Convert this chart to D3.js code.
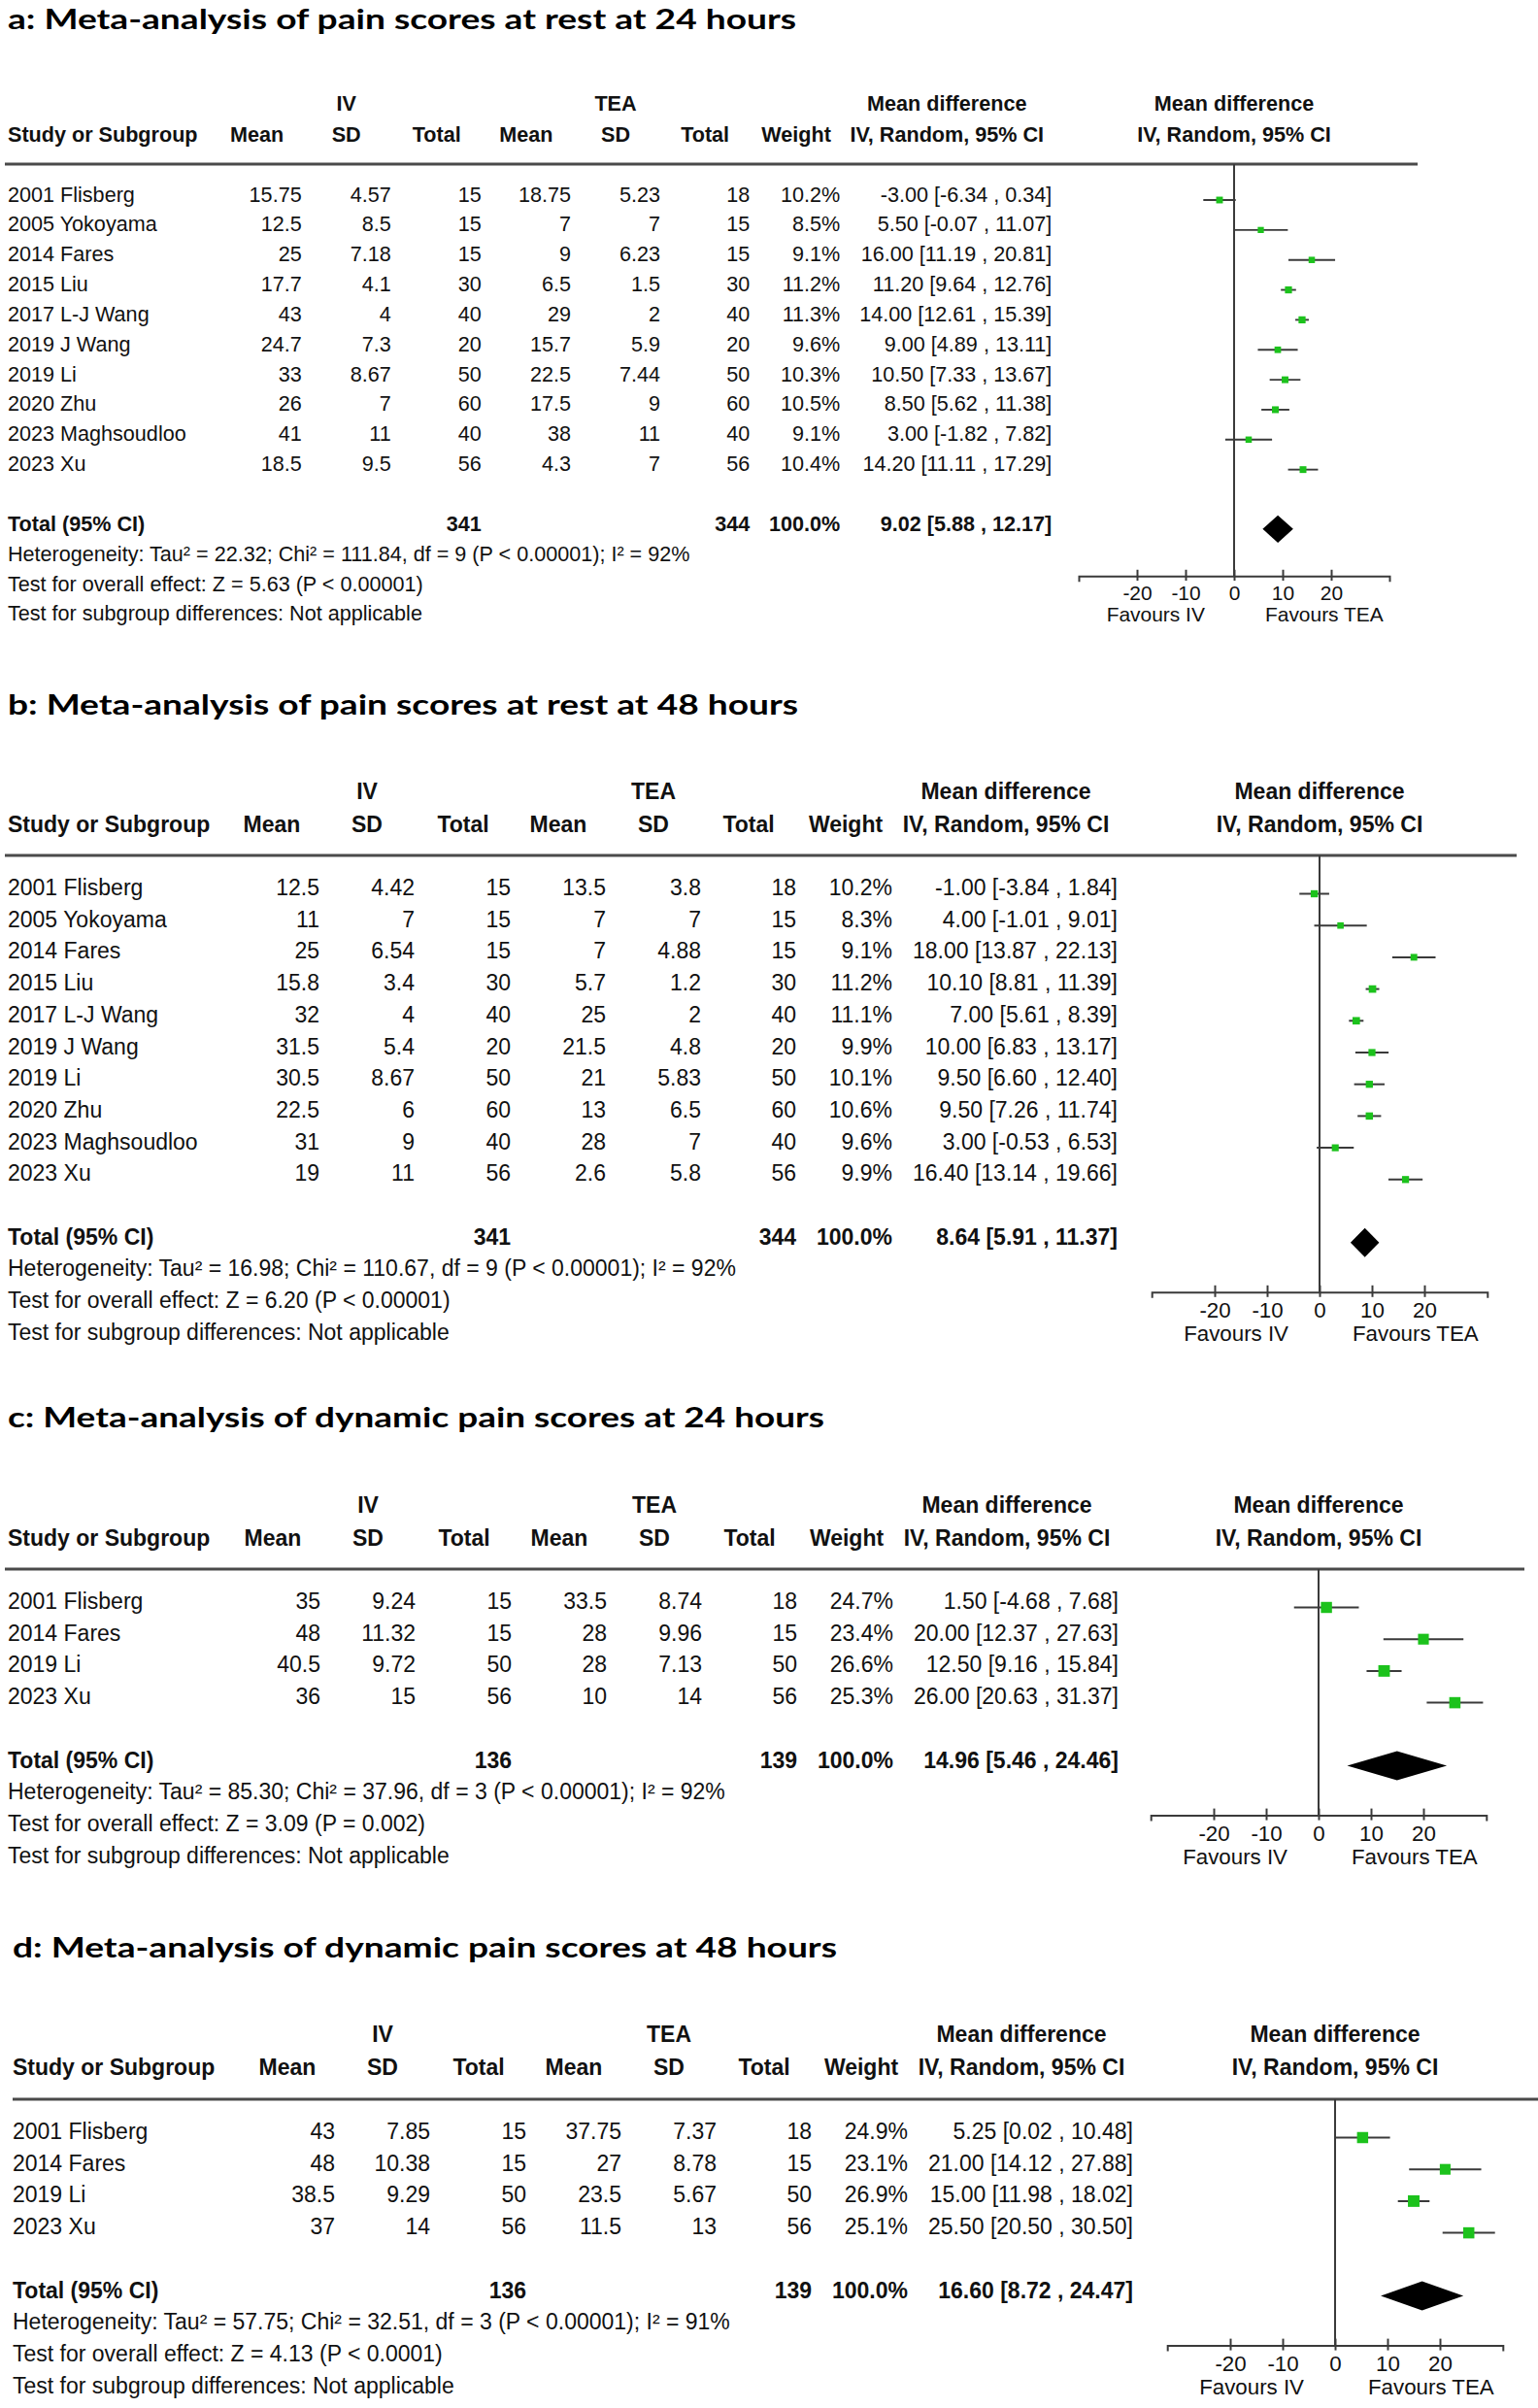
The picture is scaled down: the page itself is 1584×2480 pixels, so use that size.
<!DOCTYPE html>
<html><head><meta charset="utf-8">
<script src="https://cdn.jsdelivr.net/npm/d3@7"></script>
<style>body{margin:0;background:#fff}</style>
</head><body>
<svg id="chart" width="1584" height="2480"></svg>
<script>
// ---------------- DATA ----------------
const studiesAB = ["2001 Flisberg","2005 Yokoyama","2014 Fares","2015 Liu","2017 L-J Wang","2019 J Wang","2019 Li","2020 Zhu","2023 Maghsoudloo","2023 Xu"];
const studiesCD = ["2001 Flisberg","2014 Fares","2019 Li","2023 Xu"];

// a: pain at rest 24 h
const aIvMean  = [15.75,12.5,25,17.7,43,24.7,33,26,41,18.5];
const aIvSD    = [4.57,8.5,7.18,4.1,4,7.3,8.67,7,11,9.5];
const aIvN     = [15,15,15,30,40,20,50,60,40,56];
const aTeaMean = [18.75,7,9,6.5,29,15.7,22.5,17.5,38,4.3];
const aTeaSD   = [5.23,7,6.23,1.5,2,5.9,7.44,9,11,7];
const aTeaN    = [18,15,15,30,40,20,50,60,40,56];
const aWeight  = [10.2,8.5,9.1,11.2,11.3,9.6,10.3,10.5,9.1,10.4];
const aMD      = [-3.00,5.50,16.00,11.20,14.00,9.00,10.50,8.50,3.00,14.20];
const aLo      = [-6.34,-0.07,11.19,9.64,12.61,4.89,7.33,5.62,-1.82,11.11];
const aHi      = [0.34,11.07,20.81,12.76,15.39,13.11,13.67,11.38,7.82,17.29];
const aTotal   = {ivN:341, teaN:344, md:9.02, lo:5.88, hi:12.17};
const aStats   = ["Heterogeneity: Tau² = 22.32; Chi² = 111.84, df = 9 (P < 0.00001); I² = 92%",
                  "Test for overall effect: Z = 5.63 (P < 0.00001)",
                  "Test for subgroup differences: Not applicable"];

// b: pain at rest 48 h
const bIvMean  = [12.5,11,25,15.8,32,31.5,30.5,22.5,31,19];
const bIvSD    = [4.42,7,6.54,3.4,4,5.4,8.67,6,9,11];
const bIvN     = [15,15,15,30,40,20,50,60,40,56];
const bTeaMean = [13.5,7,7,5.7,25,21.5,21,13,28,2.6];
const bTeaSD   = [3.8,7,4.88,1.2,2,4.8,5.83,6.5,7,5.8];
const bTeaN    = [18,15,15,30,40,20,50,60,40,56];
const bWeight  = [10.2,8.3,9.1,11.2,11.1,9.9,10.1,10.6,9.6,9.9];
const bMD      = [-1.00,4.00,18.00,10.10,7.00,10.00,9.50,9.50,3.00,16.40];
const bLo      = [-3.84,-1.01,13.87,8.81,5.61,6.83,6.60,7.26,-0.53,13.14];
const bHi      = [1.84,9.01,22.13,11.39,8.39,13.17,12.40,11.74,6.53,19.66];
const bTotal   = {ivN:341, teaN:344, md:8.64, lo:5.91, hi:11.37};
const bStats   = ["Heterogeneity: Tau² = 16.98; Chi² = 110.67, df = 9 (P < 0.00001); I² = 92%",
                  "Test for overall effect: Z = 6.20 (P < 0.00001)",
                  "Test for subgroup differences: Not applicable"];

// c: dynamic pain 24 h
const cIvMean  = [35,48,40.5,36];
const cIvSD    = [9.24,11.32,9.72,15];
const cIvN     = [15,15,50,56];
const cTeaMean = [33.5,28,28,10];
const cTeaSD   = [8.74,9.96,7.13,14];
const cTeaN    = [18,15,50,56];
const cWeight  = [24.7,23.4,26.6,25.3];
const cMD      = [1.50,20.00,12.50,26.00];
const cLo      = [-4.68,12.37,9.16,20.63];
const cHi      = [7.68,27.63,15.84,31.37];
const cTotal   = {ivN:136, teaN:139, md:14.96, lo:5.46, hi:24.46};
const cStats   = ["Heterogeneity: Tau² = 85.30; Chi² = 37.96, df = 3 (P < 0.00001); I² = 92%",
                  "Test for overall effect: Z = 3.09 (P = 0.002)",
                  "Test for subgroup differences: Not applicable"];

// d: dynamic pain 48 h
const dIvMean  = [43,48,38.5,37];
const dIvSD    = [7.85,10.38,9.29,14];
const dIvN     = [15,15,50,56];
const dTeaMean = [37.75,27,23.5,11.5];
const dTeaSD   = [7.37,8.78,5.67,13];
const dTeaN    = [18,15,50,56];
const dWeight  = [24.9,23.1,26.9,25.1];
const dMD      = [5.25,21.00,15.00,25.50];
const dLo      = [0.02,14.12,11.98,20.50];
const dHi      = [10.48,27.88,18.02,30.50];
const dTotal   = {ivN:136, teaN:139, md:16.60, lo:8.72, hi:24.47};
const dStats   = ["Heterogeneity: Tau² = 57.75; Chi² = 32.51, df = 3 (P < 0.00001); I² = 91%",
                  "Test for overall effect: Z = 4.13 (P < 0.0001)",
                  "Test for subgroup differences: Not applicable"];

const titles = ["a: Meta-analysis of pain scores at rest at 24 hours",
                "b: Meta-analysis of pain scores at rest at 48 hours",
                "c: Meta-analysis of dynamic pain scores at 24 hours",
                "d: Meta-analysis of dynamic pain scores at 48 hours"];
const colHeaders = ["Mean","SD","Total","Mean","SD","Total","Weight"];
const tickValues = [-20,-10,0,10,20];
const axisDomain = [-32,32];

// ---------------- LAYOUT ----------------
function colsFrom(base, k, off){ const o={}; for(const key in base){ o[key]=base[key]*k+off; } return o; }
const baseCols = {mean:329, sd:427, total:526, mean2:624, sd2:722, total2:820, weight:919, ci:1151};

const panels = [
 {title:titles[0], studies:studiesAB, ivMean:aIvMean, ivSD:aIvSD, ivN:aIvN, teaMean:aTeaMean, teaSD:aTeaSD, teaN:aTeaN,
  weight:aWeight, md:aMD, lo:aLo, hi:aHi, total:aTotal, stats:aStats,
  L:{s:0.94, fs:21.6, titleX:8, titleY:30, titleW:812, gY:114, hY:146, lineY:169, lineX:[5,1460], row0:207.5, dy:30.85,
     studyX:8, cols:colsFrom(baseCols,0.94,1.4), zero:1271, ppu:5.0}},
 {title:titles[1], studies:studiesAB, ivMean:bIvMean, ivSD:bIvSD, ivN:bIvN, teaMean:bTeaMean, teaSD:bTeaSD, teaN:bTeaN,
  weight:bWeight, md:bMD, lo:bLo, hi:bHi, total:bTotal, stats:bStats,
  L:{s:1, fs:23, titleX:8, titleY:736, titleW:814, gY:823, hY:857, lineY:881, lineX:[5,1562], row0:922, dy:32.7,
     studyX:8, cols:colsFrom(baseCols,1,0), zero:1359, ppu:5.4}},
 {title:titles[2], studies:studiesCD, ivMean:cIvMean, ivSD:cIvSD, ivN:cIvN, teaMean:cTeaMean, teaSD:cTeaSD, teaN:cTeaN,
  weight:cWeight, md:cMD, lo:cLo, hi:cHi, total:cTotal, stats:cStats,
  L:{s:1, fs:23, titleX:8, titleY:1470, titleW:841, gY:1558, hY:1592, lineY:1616, lineX:[5,1570], row0:1657, dy:32.7,
     studyX:8, cols:colsFrom(baseCols,1,1), zero:1358, ppu:5.4}},
 {title:titles[3], studies:studiesCD, ivMean:dIvMean, ivSD:dIvSD, ivN:dIvN, teaMean:dTeaMean, teaSD:dTeaSD, teaN:dTeaN,
  weight:dWeight, md:dMD, lo:dLo, hi:dHi, total:dTotal, stats:dStats,
  L:{s:1, fs:23, titleX:13, titleY:2016, titleW:849, gY:2103, hY:2137, lineY:2162, lineX:[13,1584], row0:2203, dy:32.7,
     studyX:13, cols:colsFrom(baseCols,1,16), zero:1375, ppu:5.4}}
];

const BODY = "'Liberation Sans', Arial, Helvetica, sans-serif";
const TITLE = "Lato, 'Open Sans', sans-serif";
const INK = "#111";
const LINE = "#3a3a3a";
const GREEN = "#1cc21c";

const svg = d3.select("#chart");
svg.append("rect").attr("width",1584).attr("height",2480).attr("fill","#fff");

const fmtCI = (m,l,h) => `${m.toFixed(2)} [${l.toFixed(2)} , ${h.toFixed(2)}]`;

panels.forEach(p => {
  const L = p.L, s = L.s, c = L.cols;
  const g = svg.append("g");
  const hOff = 49*s, ciOff = 115*s, wOff = 48*s;
  const txt = (x,y,str,anchor,bold,size) => g.append("text")
      .attr("x",x).attr("y",y).attr("text-anchor",anchor||"start")
      .attr("font-family",BODY).attr("font-size",size||L.fs)
      .attr("font-weight",bold?"bold":"normal").attr("fill",INK).text(str);

  // title
  g.append("text").attr("x",L.titleX).attr("y",L.titleY)
   .attr("font-family",TITLE).attr("font-weight","bold").attr("font-size",29)
   .attr("textLength",L.titleW).attr("lengthAdjust","spacingAndGlyphs")
   .attr("fill","#000").text(p.title);

  // group headers
  txt(c.sd - hOff, L.gY, "IV", "middle", true);
  txt(c.sd2 - hOff, L.gY, "TEA", "middle", true);
  txt(c.ci - ciOff, L.gY, "Mean difference", "middle", true);
  txt(L.zero, L.gY, "Mean difference", "middle", true);

  // column headers
  txt(L.studyX, L.hY, "Study or Subgroup", "start", true);
  const colKeys = ["mean","sd","total","mean2","sd2","total2"];
  colKeys.forEach((k,i) => txt(c[k]-hOff, L.hY, colHeaders[i], "middle", true));
  txt(c.weight - wOff, L.hY, colHeaders[6], "middle", true);
  txt(c.ci - ciOff, L.hY, "IV, Random, 95% CI", "middle", true);
  txt(L.zero, L.hY, "IV, Random, 95% CI", "middle", true);

  // header rule
  g.append("line").attr("x1",L.lineX[0]).attr("x2",L.lineX[1])
   .attr("y1",L.lineY).attr("y2",L.lineY).attr("stroke","#4a4a4a").attr("stroke-width",3);

  const n = p.studies.length;
  const rowY = d3.scaleLinear().domain([0,1]).range([L.row0, L.row0+L.dy]);

  // study rows
  p.studies.forEach((st,i) => {
    const y = rowY(i);
    txt(L.studyX, y, st);
    txt(c.mean, y, String(p.ivMean[i]), "end");
    txt(c.sd, y, String(p.ivSD[i]), "end");
    txt(c.total, y, String(p.ivN[i]), "end");
    txt(c.mean2, y, String(p.teaMean[i]), "end");
    txt(c.sd2, y, String(p.teaSD[i]), "end");
    txt(c.total2, y, String(p.teaN[i]), "end");
    txt(c.weight, y, p.weight[i].toFixed(1)+"%", "end");
    txt(c.ci, y, fmtCI(p.md[i],p.lo[i],p.hi[i]), "end");
  });

  // total row
  const ty = rowY(n+1);
  txt(L.studyX, ty, "Total (95% CI)", "start", true);
  txt(c.total, ty, String(p.total.ivN), "end", true);
  txt(c.total2, ty, String(p.total.teaN), "end", true);
  txt(c.weight, ty, "100.0%", "end", true);
  txt(c.ci, ty, fmtCI(p.total.md,p.total.lo,p.total.hi), "end", true);

  // stats lines
  p.stats.forEach((st,k) => txt(L.studyX, rowY(n+2+k), st));

  // forest plot
  const x = d3.scaleLinear().domain(axisDomain)
              .range([L.zero + axisDomain[0]*L.ppu, L.zero + axisDomain[1]*L.ppu]);
  const axisY = rowY(n+4) - 49*s;

  // zero line
  g.append("line").attr("x1",x(0)).attr("x2",x(0)).attr("y1",L.lineY).attr("y2",axisY)
   .attr("stroke",LINE).attr("stroke-width",2);

  // CI whiskers and squares
  const markY = i => rowY(i) - 1.5;
  g.selectAll(".ci").data(d3.range(n)).join("line")
   .attr("x1",i=>x(p.lo[i])).attr("x2",i=>x(p.hi[i]))
   .attr("y1",markY).attr("y2",markY)
   .attr("stroke",LINE).attr("stroke-width",2*s);
  const sz = i => 2.3*Math.sqrt(p.weight[i])*s;
  g.selectAll(".sq").data(d3.range(n)).join("rect")
   .attr("x",i=>x(p.md[i])-sz(i)/2).attr("y",i=>markY(i)-sz(i)/2)
   .attr("width",sz).attr("height",sz).attr("fill",GREEN);

  // diamond
  const dy0 = ty - 2, dh = 30*s/2;
  const dpts = [[x(p.total.lo),dy0],[x(p.total.md),dy0-dh],[x(p.total.hi),dy0],[x(p.total.md),dy0+dh]];
  g.append("path").attr("d", d3.line()(dpts)+"Z").attr("fill","#000");

  // axis
  const ax = g.append("g").attr("transform",`translate(0,${axisY})`)
    .call(d3.axisBottom(x).tickValues(tickValues).tickSizeOuter(0).tickSize(6).tickFormat(d => String(d)));
  ax.select(".domain").attr("stroke",LINE).attr("stroke-width",2);
  ax.selectAll(".tick line").attr("stroke",LINE).attr("stroke-width",2).attr("y1",-7*s).attr("y2",5*s);
  ax.selectAll(".tick text").attr("y",26*s).attr("dy",0)
    .attr("font-family",BODY).attr("font-size",L.fs*0.97).attr("fill",INK);

  // favours labels
  const fy = axisY + 50*s;
  txt(x(0) - 32*s, fy, "Favours IV", "end", false, L.fs*0.97);
  txt(x(0) + 34*s, fy, "Favours TEA", "start", false, L.fs*0.97);
});
</script>
</body></html>
